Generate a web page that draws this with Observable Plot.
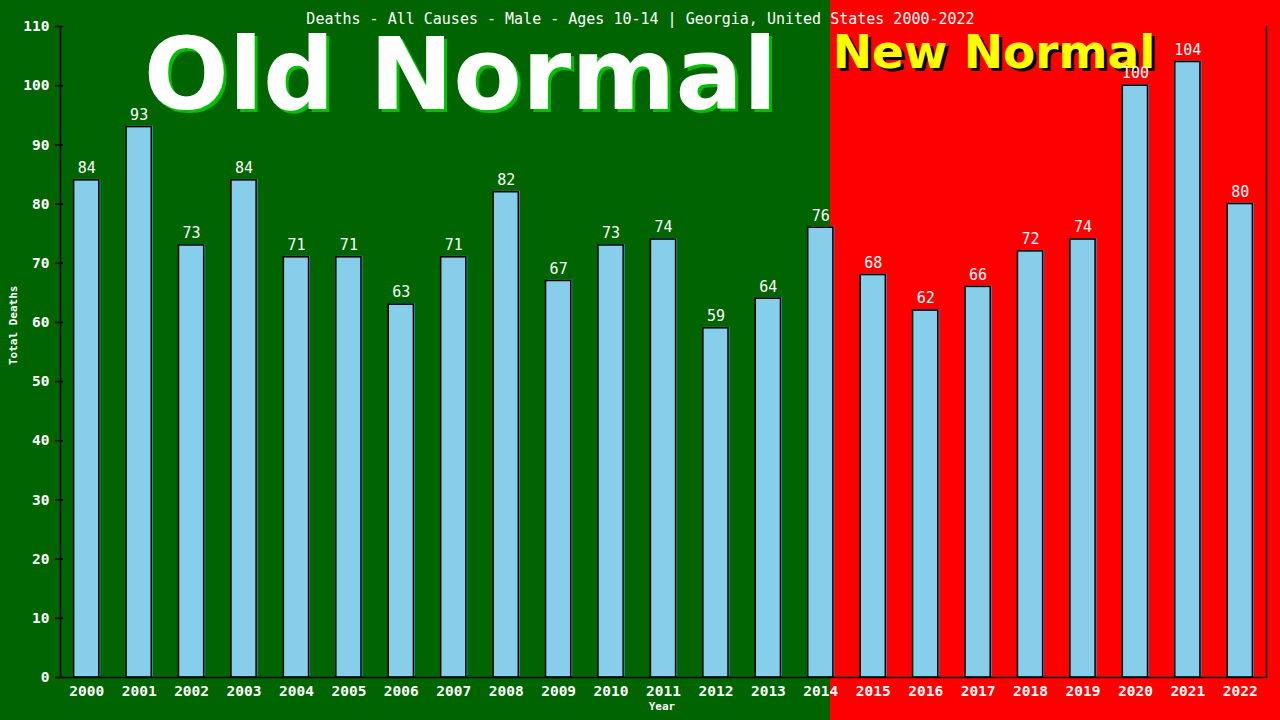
<!DOCTYPE html>
<html><head><meta charset="utf-8">
<script src="https://cdn.jsdelivr.net/npm/d3@7"></script>
<script src="https://cdn.jsdelivr.net/npm/@observablehq/plot@0.6"></script>
<style>
html,body{margin:0;padding:0;}
body{width:1280px;height:720px;overflow:hidden;background:linear-gradient(to right,#006400 0,#006400 830px,#ff0000 830px,#ff0000 100%);}
</style></head><body><div id="chart"></div>
<script>
const years = ["2000","2001","2002","2003","2004","2005","2006","2007","2008","2009","2010","2011","2012","2013","2014","2015","2016","2017","2018","2019","2020","2021","2022"];
const deaths = [84,93,73,84,71,71,63,71,82,67,73,74,59,64,76,68,62,66,72,74,100,104,80];
const yTicks = [0,10,20,30,40,50,60,70,80,90,100,110];
const titleText = "Deaths - All Causes - Male - Ages 10-14 | Georgia, United States 2000-2022";
const yLabel = "Total Deaths";
const xLabel = "Year";
const oldLabel = "Old Normal";
const newLabel = "New Normal";

const data = years.map((y, i) => ({year: y, deaths: deaths[i]}));
const mono = "'DejaVu Sans Mono', monospace";
const sans = "'DejaVu Sans', sans-serif";

const chart = Plot.plot({
  width: 1280, height: 720,
  marginTop: 26, marginRight: 14, marginBottom: 43, marginLeft: 60,
  style: {background: "transparent", color: "white", fontFamily: mono, overflow: "visible"},
  x: {type: "band", domain: years, paddingInner: 0.52, paddingOuter: 0.26, round: false, axis: null},
  y: {domain: [0, 110], axis: null},
  marks: [
    Plot.text([oldLabel], {frameAnchor: "top-left", dx: 403, dy: 53, textAnchor: "middle", lineAnchor: "middle", fontSize: 100, fontWeight: "bold", fontFamily: sans, fill: "#00c000"}),
    Plot.text([oldLabel], {frameAnchor: "top-left", dx: 400, dy: 50, textAnchor: "middle", lineAnchor: "middle", fontSize: 100, fontWeight: "bold", fontFamily: sans, fill: "white"}),
    Plot.text([newLabel], {frameAnchor: "top-left", dx: 936.5, dy: 29, textAnchor: "middle", lineAnchor: "middle", fontSize: 47, fontWeight: "bold", fontFamily: sans, fill: "black"}),
    Plot.text([newLabel], {frameAnchor: "top-left", dx: 933.5, dy: 26, textAnchor: "middle", lineAnchor: "middle", fontSize: 47, fontWeight: "bold", fontFamily: sans, fill: "#ffff00"}),
    Plot.barY(data, {x: "year", y: "deaths", fill: "#4b93c4", dx: 1.5, dy: -1}),
    Plot.barY(data, {x: "year", y: "deaths", fill: "#87ceeb", stroke: "black", strokeWidth: 1.5}),
    Plot.text(data, {x: "year", y: "deaths", text: d => String(d.deaths), dy: -12, fill: "white", fontSize: 15}),
    Plot.frame({anchor: "left", stroke: "black", strokeWidth: 1.5}),
    Plot.frame({anchor: "right", stroke: "black", strokeWidth: 1.5}),
    Plot.ruleY([0], {stroke: "black", strokeWidth: 1.5}),
    Plot.axisY(yTicks, {tickSize: 8, dx: 3, tickFormat: () => "", stroke: "black", strokeWidth: 1.5, label: null}),
    Plot.axisY(yTicks, {tickSize: 0, tickPadding: 11, fill: "white", fontSize: 14.5, fontWeight: "bold", label: null}),
    Plot.axisX({tickSize: 0, tickPadding: 8, fill: "white", fontSize: 14.5, fontWeight: "bold", label: null}),
    Plot.text([yLabel], {frameAnchor: "left", dx: -47, dy: 13, rotate: -90, fontSize: 11, fontWeight: "bold", fill: "white"}),
    Plot.text([xLabel], {frameAnchor: "bottom", dx: -1.5, dy: 32, fontSize: 11, fontWeight: "bold", fill: "white"}),
    Plot.text([titleText], {frameAnchor: "top", dx: -23, dy: -13, fontSize: 15, fill: "white"})
  ]
});
document.getElementById("chart").append(chart);
</script></body></html>
